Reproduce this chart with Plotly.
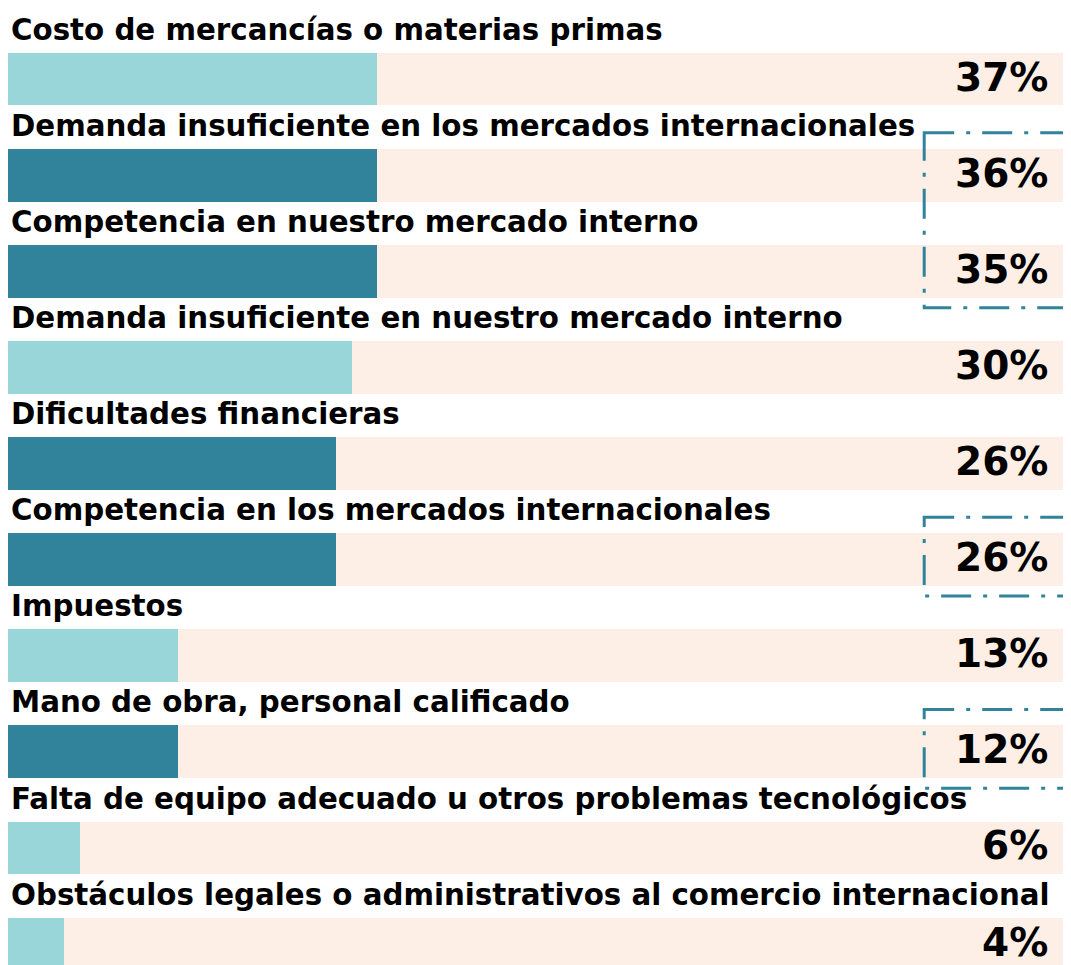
import plotly.graph_objects as go

# Obstacles, top to bottom
categories = [
    "Costo de mercancías o materias primas",
    "Demanda insuficiente en los mercados internacionales",
    "Competencia en nuestro mercado interno",
    "Demanda insuficiente en nuestro mercado interno",
    "Dificultades financieras",
    "Competencia en los mercados internacionales",
    "Impuestos",
    "Mano de obra, personal calificado",
    "Falta de equipo adecuado u otros problemas tecnológicos",
    "Obstáculos legales o administrativos al comercio internacional",
]
pct = [37, 36, 35, 30, 26, 26, 13, 12, 6, 4]
# bar lengths as drawn in the source graphic (not strictly to scale with pct)
bar_drawn = [37, 37, 37, 34.5, 32.9, 32.9, 17.2, 17.2, 7.5, 5.9]
highlight = [False, True, True, False, True, True, False, True, False, False]
# row ranges boxed with a dash-dot outline
callouts = [(1, 2), (5, 5), (7, 7)]

TRACK_MAX = 110
X_MAX = 105.2
LIGHT = "#99D6D9"
DARK = "#31839B"
PEACH = "#FDEFE6"
FONT = "DejaVu Sans"

rows = list(range(len(categories)))
colors = [DARK if h else LIGHT for h in highlight]

fig = go.Figure()

# full-width peach tracks
fig.add_trace(go.Bar(
    y=rows, x=[TRACK_MAX] * len(rows), orientation="h",
    marker=dict(color=PEACH, line=dict(width=0)),
    width=0.55, hoverinfo="skip", showlegend=False,
))

# value bars
fig.add_trace(go.Bar(
    y=rows, x=bar_drawn, orientation="h",
    marker=dict(color=colors, line=dict(width=0)),
    width=0.55, customdata=pct, text=categories,
    hovertemplate="%{text}: %{customdata}%<extra></extra>",
    textposition="none", showlegend=False,
))

for i, (cat, p) in enumerate(zip(categories, pct)):
    # category label above the bar
    fig.add_annotation(
        x=0, y=i - 0.275, xref="paper", yref="y",
        text=f"<b>{cat}</b>", showarrow=False,
        xanchor="left", yanchor="bottom", xshift=1, yshift=4,
        font=dict(family=FONT, size=29.3, color="black"),
    )
    # percentage on the right
    fig.add_annotation(
        x=1, y=i, xref="paper", yref="y",
        text=f"<b>{p}%</b>", showarrow=False,
        xanchor="right", yanchor="middle", xshift=-13, yshift=2,
        font=dict(family=FONT, size=39, color="black"),
    )

for first, last in callouts:
    fig.add_shape(
        type="rect", xref="x", yref="y",
        x0=91.4, x1=TRACK_MAX,
        y0=first - 0.44, y1=last + 0.38,
        line=dict(color=DARK, width=3, dash="30px,12px,4px,12px"),
        fillcolor="rgba(0,0,0,0)", layer="above",
    )

# the page body has an 8px margin; the figure has to fit inside it
fig.update_layout(
    width=1055, height=957,
    margin=dict(l=0, r=0, t=0, b=0),
    paper_bgcolor="white", plot_bgcolor="white",
    barmode="overlay", bargap=0,
    xaxis=dict(range=[0.3, X_MAX], visible=False, fixedrange=True),
    yaxis=dict(range=[9.218, -0.739], visible=False, fixedrange=True),
    font=dict(family=FONT),
)

fig.write_html("out.html")
